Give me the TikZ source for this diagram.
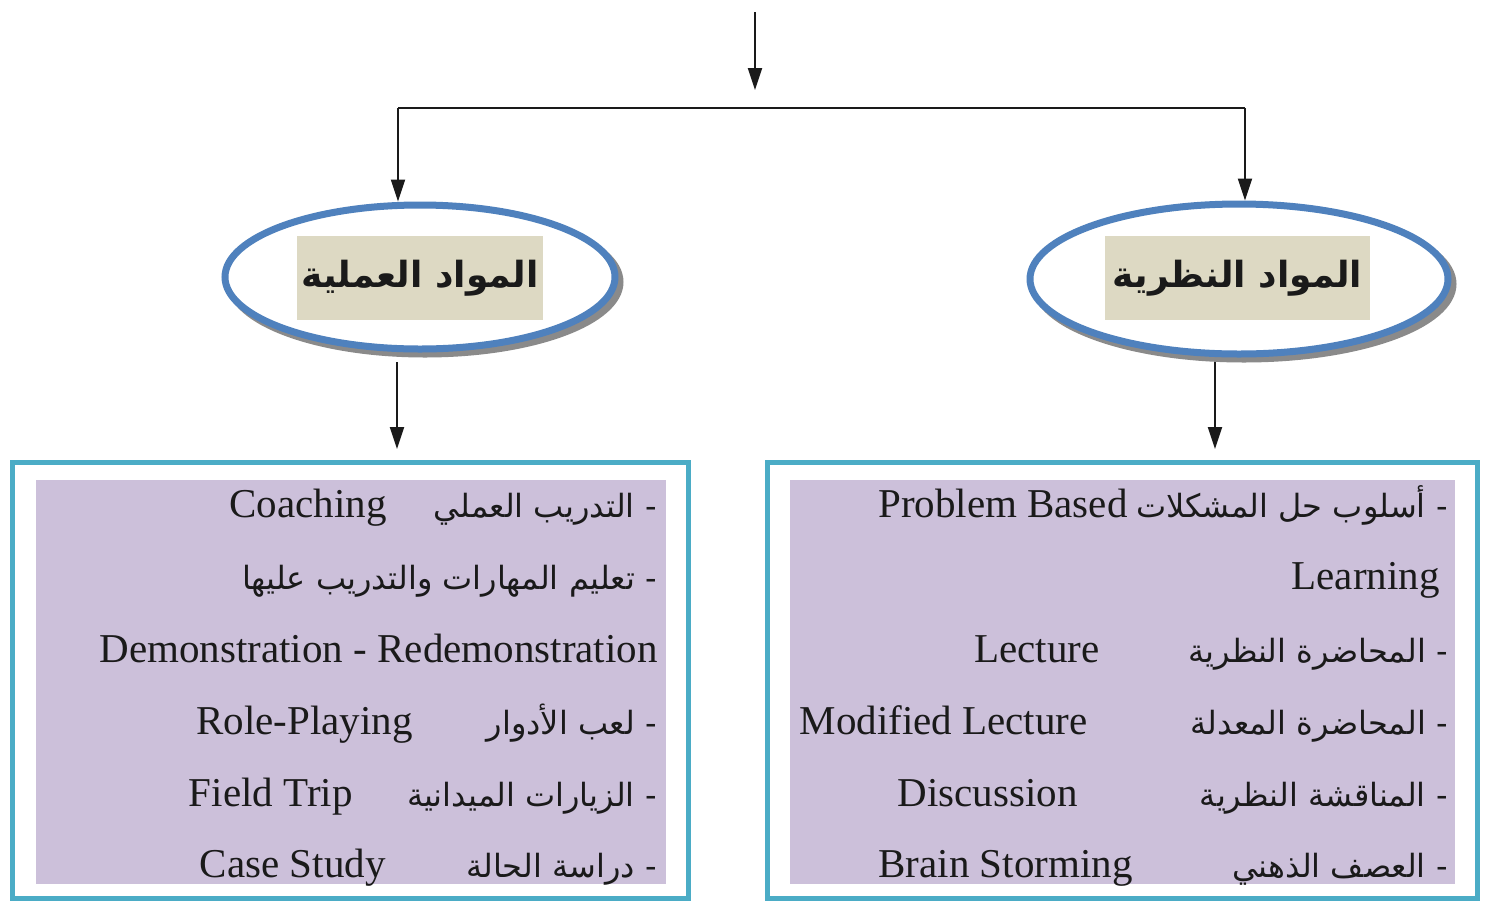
\documentclass[tikz,border=0pt]{standalone}
\usepackage{fontspec}
\setmainfont{Liberation Serif}
\newfontfamily\arabicfont[Script=Arabic]{DejaVu Sans}
\TeXXeTstate=1
\usetikzlibrary{arrows.meta,shapes.geometric}
\definecolor{ellblue}{HTML}{4F81BD}
\definecolor{shadowgray}{HTML}{8A8A8A}
\definecolor{beige}{HTML}{DDD9C3}
\definecolor{tealb}{HTML}{4BACC6}
\definecolor{lilac}{HTML}{CCC0DA}
\definecolor{ink}{HTML}{1A1A1A}
\tikzset{
  conn/.style={draw=ink, line width=1.1pt},
  arr/.style={conn, -{Triangle[length=11pt,width=7pt]}},
  ell/.style={ellipse, draw=ellblue, line width=3.5pt, fill=white, inner sep=0pt},
  ellshadow/.style={ellipse, draw=shadowgray, line width=3.5pt, fill=shadowgray, inner sep=0pt},
  titlebox/.style={fill=beige, inner sep=0pt, font=\arabicfont\bfseries\fontsize{18}{22}\selectfont, text=ink},
  outerbox/.style={draw=tealb, line width=2.5pt, fill=white, inner sep=0pt},
  innerbox/.style={fill=lilac, inner sep=0pt},
  en/.style={anchor=base east, inner sep=0pt, text=ink, font=\fontsize{20.5}{24}\selectfont},
  ar/.style={anchor=base east, inner sep=0pt, text=ink, font=\arabicfont\fontsize{16}{20}\selectfont},
}
\begin{document}
\begin{tikzpicture}[x=0.5pt,y=-0.5pt]
\useasboundingbox (0,0) rectangle (1489,901);
\fill[white] (0,0) rectangle (1489,901);

% top connectors
\coordinate (topstart) at (755,12);
\coordinate (topend) at (755,90);
\coordinate (jl) at (398,108);
\coordinate (jr) at (1245,108);

% ellipses
\node[ellshadow, minimum width=195pt, minimum height=72pt] (Lsh) at (425,282) {};
\node[ell, minimum width=195pt, minimum height=72pt] (L) at (420,277) {};
\node[titlebox, minimum width=123pt, minimum height=42pt] (Lt) at (420,278) {\beginR المواد العملية\endR};

\node[ellshadow, minimum width=209pt, minimum height=75pt] (Rsh) at (1244,284) {};
\node[ell, minimum width=209pt, minimum height=75pt] (R) at (1239,279) {};
\node[titlebox, minimum width=132.5pt, minimum height=42pt] (Rt) at (1237.5,278) {\beginR المواد النظرية\endR};

\draw[arr] (topstart) -- (topend);
\draw[conn] (jl) -- (jr);
\draw[arr] (jl) -- (jl |- L.north);
\draw[arr] (jr) -- (jr |- R.north);

% boxes
\node[outerbox, minimum width=338pt, minimum height=218pt] (LB) at (350,680) {};
\node[innerbox, minimum width=315pt, minimum height=202pt] (LI) at (351,682) {};
\node[outerbox, minimum width=355pt, minimum height=218pt] (RB) at (1122,680) {};
\node[innerbox, minimum width=332.5pt, minimum height=202pt] (RI) at (1122.5,682) {};

\coordinate (ls) at (397,362);
\coordinate (le) at (397,449);
\coordinate (rs) at (1215,362);
\coordinate (re) at (1215,449);
\draw[arr] (ls) -- (le);
\draw[arr] (rs) -- (re);

% left texts
\node[ar] (l1a) at (657,517) {\beginR - التدريب العملي\endR};
\node[en] (l1e) at (387,517) {Coaching};
\node[ar] (l2a) at (657,589) {\beginR - تعليم المهارات والتدريب عليها\endR};
\node[en] (l3e) at (658,662) {Demonstration - Redemonstration};
\node[ar] (l4a) at (657,734) {\beginR - لعب الأدوار\endR};
\node[en] (l4e) at (413,734) {Role-Playing};
\node[ar] (l5a) at (657,806) {\beginR - الزيارات الميدانية\endR};
\node[en] (l5e) at (353,806) {Field Trip};
\node[ar] (l6a) at (657,877) {\beginR - دراسة الحالة\endR};
\node[en] (l6e) at (386,877) {Case Study};

% right texts
\node[ar] (r1a) at (1448,517) {\beginR - أسلوب حل المشكلات\endR};
\node[en] (r1e) at (1128,517) {Problem Based};
\node[en] (r2e) at (1440,589) {Learning};
\node[ar] (r3a) at (1448,662) {\beginR - المحاضرة النظرية\endR};
\node[en] (r3e) at (1100,662) {Lecture};
\node[ar] (r4a) at (1448,734) {\beginR - المحاضرة المعدلة\endR};
\node[en] (r4e) at (1088,734) {Modified Lecture};
\node[ar] (r5a) at (1448,806) {\beginR - المناقشة النظرية\endR};
\node[en] (r5e) at (1078,806) {Discussion};
\node[ar] (r6a) at (1448,877) {\beginR - العصف الذهني\endR};
\node[en] (r6e) at (1133,877) {Brain Storming};
\end{tikzpicture}
\end{document}
